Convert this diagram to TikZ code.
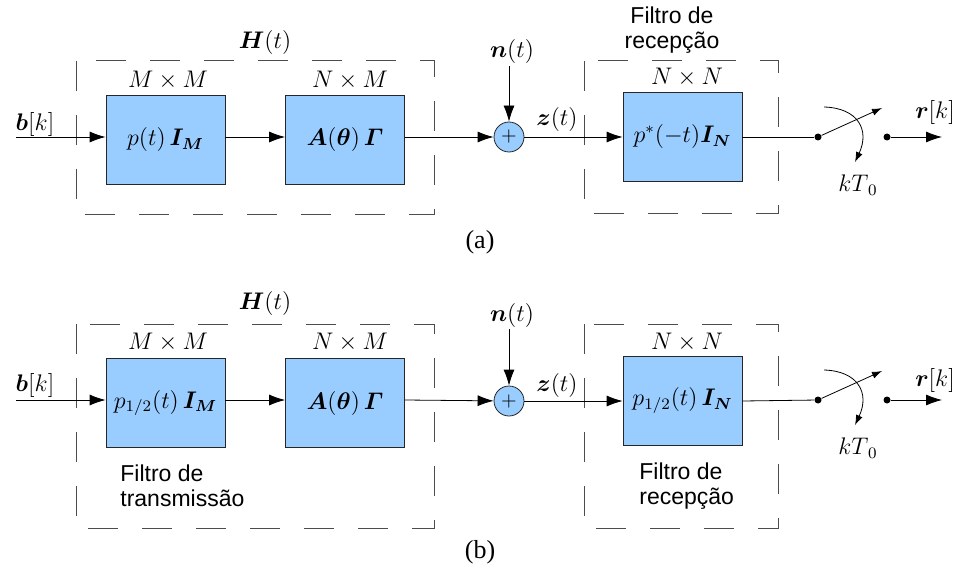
\documentclass[tikz,border=0pt]{standalone}
\usepackage{mathtools}
\usepackage{bm}
\usepackage{fontspec}
\setmainfont{Liberation Serif}
\setsansfont{Liberation Sans}
\usepackage{tikz}
\usetikzlibrary{arrows.meta,positioning}
\definecolor{blkfill}{HTML}{99CCFF}
\tikzset{
x=0.5pt,y=-0.5pt,
line width=0.55pt,
>={Latex[length=8pt,width=5.5pt]},
blk/.style={draw=black!85,fill=blkfill,minimum width=59.5pt,minimum height=44.5pt,inner sep=0pt,font=\fontsize{12}{14}\selectfont},
sum/.style={draw=black!85,fill=blkfill,circle,minimum size=15pt,inner sep=0pt},
dbox/.style={draw=black!70,line width=0.5pt,dash pattern=on 15pt off 12pt},
lbl/.style={inner sep=1pt,font=\fontsize{12}{14}\selectfont},
txt/.style={inner sep=0pt,font=\sffamily\fontsize{11.5}{12.5}\selectfont},
sdot/.style={circle,fill=black,minimum size=3.5pt,inner sep=0pt},
sw/.style={->,>={Latex[length=5pt,width=3.5pt]}}
}
\begin{document}
\begin{tikzpicture}
\useasboundingbox (0,0) rectangle (961,577);

% --- (a) ---
\draw[dbox] (76,61) rectangle (434,214);
\draw[dbox] (584,61) rectangle (778,213);
\node[blk] (pa) at (165.5,139.5) {$p(t)\,\bm{I}_{\bm{M}}$};
\node[blk] (ga) at (345,139.5) {$\bm{A}(\bm{\theta})\,\bm{\varGamma}$};
\node[sum] (sa) at (509,137) {$+$};
\node[blk] (ra) at (682.5,136.5) {$p^{*}(-t)\bm{I}_{\bm{N}}$};
\node[sdot] (d1a) at (818,137) {};
\node[sdot] (d2a) at (887,137) {};
\coordinate (ina) at (16,137);
\coordinate (outa) at (942,137);
\coordinate (swa) at (882,108);
\coordinate (k1a) at (824,107);
\coordinate (k2a) at (855,162);

\node[lbl] (bka) at (35,125) {$\bm{b}[k]$};
\node[lbl] (hta) at (265,43) {$\bm{H}(t)$};
\node[lbl] (mma) at (168,80) {$M\times M$};
\node[lbl] (nma) at (350,80) {$N\times M$};
\node[lbl] (nla) at (512,52) {$\bm{n}(t)$};
\node[lbl] (zta) at (557,120) {$\bm{z}(t)$};
\node[lbl] (nna) at (687,77) {$N\times N$};
\node[txt,align=center] (fra) at (672,30) {Filtro de\\recepção};
\node[lbl] (rka) at (935,113) {$\bm{r}[k]$};
\node[lbl] (kta) at (858,185) {$kT_{\,0}$};
\node[font=\fontsize{13}{15}\selectfont] (capa) at (480,242) {(a)};

\draw[->] (ina) -- (ina -| pa.west);
\draw[->] (pa.east |- ina) -- (ina -| ga.west);
\draw[->] (ga.east |- ina) -- (sa);
\draw[->] (sa |- nla.south) -- (sa.north);
\draw[->] (sa) -- (sa -| ra.west);
\draw (ra.east |- sa) -- (d1a);
\draw[sw] (d1a) -- (swa);
\draw[->] (d2a) -- (outa);
\draw[sw] (k1a) .. controls (858,108) and (870,130) .. (k2a);

% --- (b) ---
\draw[dbox] (76,324) rectangle (434,528);
\draw[dbox] (584,324) rectangle (778,528);
\node[blk] (pb) at (165.5,403) {$p_{1/2}(t)\,\bm{I}_{\bm{M}}$};
\node[blk] (gb) at (345,403) {$\bm{A}(\bm{\theta})\,\bm{\varGamma}$};
\node[sum] (sb) at (509,401) {$+$};
\node[blk] (rb) at (682.5,400.5) {$p_{1/2}(t)\,\bm{I}_{\bm{N}}$};
\node[sdot] (d1b) at (818,400) {};
\node[sdot] (d2b) at (887,400) {};
\coordinate (inb) at (16,400);
\coordinate (outb) at (942,400);
\coordinate (swb) at (882,371);
\coordinate (k1b) at (824,370);
\coordinate (k2b) at (855,425);

\node[lbl] (bkb) at (35,385) {$\bm{b}[k]$};
\node[lbl] (htb) at (265,303) {$\bm{H}(t)$};
\node[lbl] (mmb) at (168,342) {$M\times M$};
\node[lbl] (nmb) at (350,342) {$N\times M$};
\node[lbl] (nlb) at (512,315) {$\bm{n}(t)$};
\node[lbl] (ztb) at (557,385) {$\bm{z}(t)$};
\node[lbl] (nnb) at (687,342) {$N\times N$};
\node[txt,align=left,anchor=west] (ftb) at (120,486) {Filtro de\\transmissão};
\node[txt,align=left,anchor=west] (frb) at (639,486) {Filtro de\\recepção};
\node[lbl] (rkb) at (935,380) {$\bm{r}[k]$};
\node[lbl] (ktb) at (858,448) {$kT_{\,0}$};
\node[font=\fontsize{13}{15}\selectfont] (capb) at (480,552) {(b)};

\draw[->] (inb) -- (inb -| pb.west);
\draw[->] (pb.east |- inb) -- (inb -| gb.west);
\draw[->] (gb.east |- inb) -- (sb);
\draw[->] (sb |- nlb.south) -- (sb.north);
\draw[->] (sb) -- (sb -| rb.west);
\draw (rb.east |- sb) -- (d1b);
\draw[sw] (d1b) -- (swb);
\draw[->] (d2b) -- (outb);
\draw[sw] (k1b) .. controls (858,371) and (870,393) .. (k2b);
\end{tikzpicture}
\end{document}
